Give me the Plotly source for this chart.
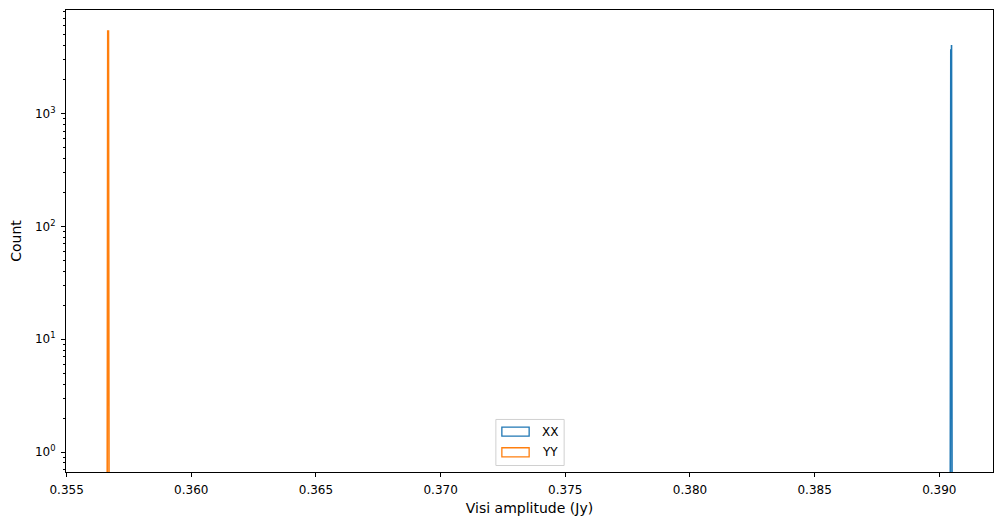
import plotly.graph_objects as go

# Histogram data (non-empty bins only): bin edges and counts
xx_edges = [0.39043, 0.39046, 0.39049, 0.39052]
xx_counts = [236, 3650, 4050]
yy_edges = [0.35662, 0.35665, 0.35668, 0.35671]
yy_counts = [1150, 5400, 1650]

series_names = ["XX", "YY"]
series_colors = ["#1f77b4", "#ff7f0e"]

x_tick_vals = [0.355, 0.360, 0.365, 0.370, 0.375, 0.380, 0.385, 0.390]
x_tick_text = ["0.355", "0.360", "0.365", "0.370", "0.375", "0.380", "0.385", "0.390"]
y_tick_vals = [1, 10, 100, 1000]
y_tick_text = ["10<sup>0</sup>", "10<sup>1</sup>", "10<sup>2</sup>", "10<sup>3</sup>"]

BASE = 0.01  # below visible range (log axis cannot show 0)


def step_outline(edges, counts):
    xs, ys = [edges[0]], [BASE]
    for i, c in enumerate(counts):
        xs += [edges[i], edges[i + 1]]
        ys += [c, c]
    xs.append(edges[-1])
    ys.append(BASE)
    return xs, ys


fig = go.Figure()
for (edges, counts), name, color in zip(
    [(xx_edges, xx_counts), (yy_edges, yy_counts)], series_names, series_colors
):
    xs, ys = step_outline(edges, counts)
    fig.add_trace(go.Scatter(x=xs, y=ys, mode="lines", name=name,
                             line=dict(color=color, width=1.6),
                             showlegend=False, hoverinfo="skip"))

# ---- manual legend (matplotlib-like outlined patches) ----
# plot area on screen: x 65.7..993, y 10..471.5 (page has 8px body offset)
PX0, PX1, PY0, PY1 = 65.7, 993.0, 10.0, 471.5


def px(sx):
    return (sx - PX0) / (PX1 - PX0)


def py(sy):
    return (PY1 - sy) / (PY1 - PY0)


shapes = [dict(type="rect", xref="paper", yref="paper",
               x0=px(495.7), x1=px(564.0), y0=py(465.0), y1=py(419.0),
               line=dict(color="#d0d0d0", width=1), fillcolor="rgba(255,255,255,0.8)",
               layer="above")]
annotations = []
rows = [(426.7, 435.7), (447.3, 456.3)]
for (top, bot), name, color in zip(rows, series_names, series_colors):
    shapes.append(dict(type="rect", xref="paper", yref="paper",
                       x0=px(501.7), x1=px(529.0), y0=py(bot), y1=py(top),
                       line=dict(color=color, width=1.3), fillcolor="rgba(0,0,0,0)",
                       layer="above"))
    annotations.append(dict(xref="paper", yref="paper", x=px(539.5), y=py((top + bot) / 2),
                            text=name, showarrow=False, xanchor="left", yanchor="middle",
                            font=dict(family="DejaVu Sans", size=12, color="black")))

font = dict(family="DejaVu Sans", size=12, color="black")
fig.update_layout(
    width=1004, height=525,
    margin=dict(l=58, r=19, t=2, b=61),
    paper_bgcolor="white", plot_bgcolor="white",
    font=font,
    showlegend=False,
    shapes=shapes,
    annotations=annotations,
    xaxis=dict(range=[0.354976, 0.392153], tickvals=x_tick_vals, ticktext=x_tick_text,
               ticks="outside", ticklen=4, tickcolor="black", showgrid=False, zeroline=False,
               showline=True, linecolor="black", linewidth=1, mirror=True,
               ticklabelstandoff=3,
               title=dict(text="Visi amplitude (Jy)", standoff=6)),
    yaxis=dict(type="log", range=[-0.177, 3.918], tickvals=y_tick_vals, ticktext=y_tick_text,
               ticks="outside", ticklen=4, tickcolor="black", showgrid=False, zeroline=False,
               showline=True, linecolor="black", linewidth=1, mirror=True,
               ticklabelstandoff=3,
               minor=dict(ticks="outside", ticklen=2, tickcolor="black", dtick="D1", showgrid=False),
               title=dict(text="Count", standoff=10)),
)

fig.write_html("out.html")
